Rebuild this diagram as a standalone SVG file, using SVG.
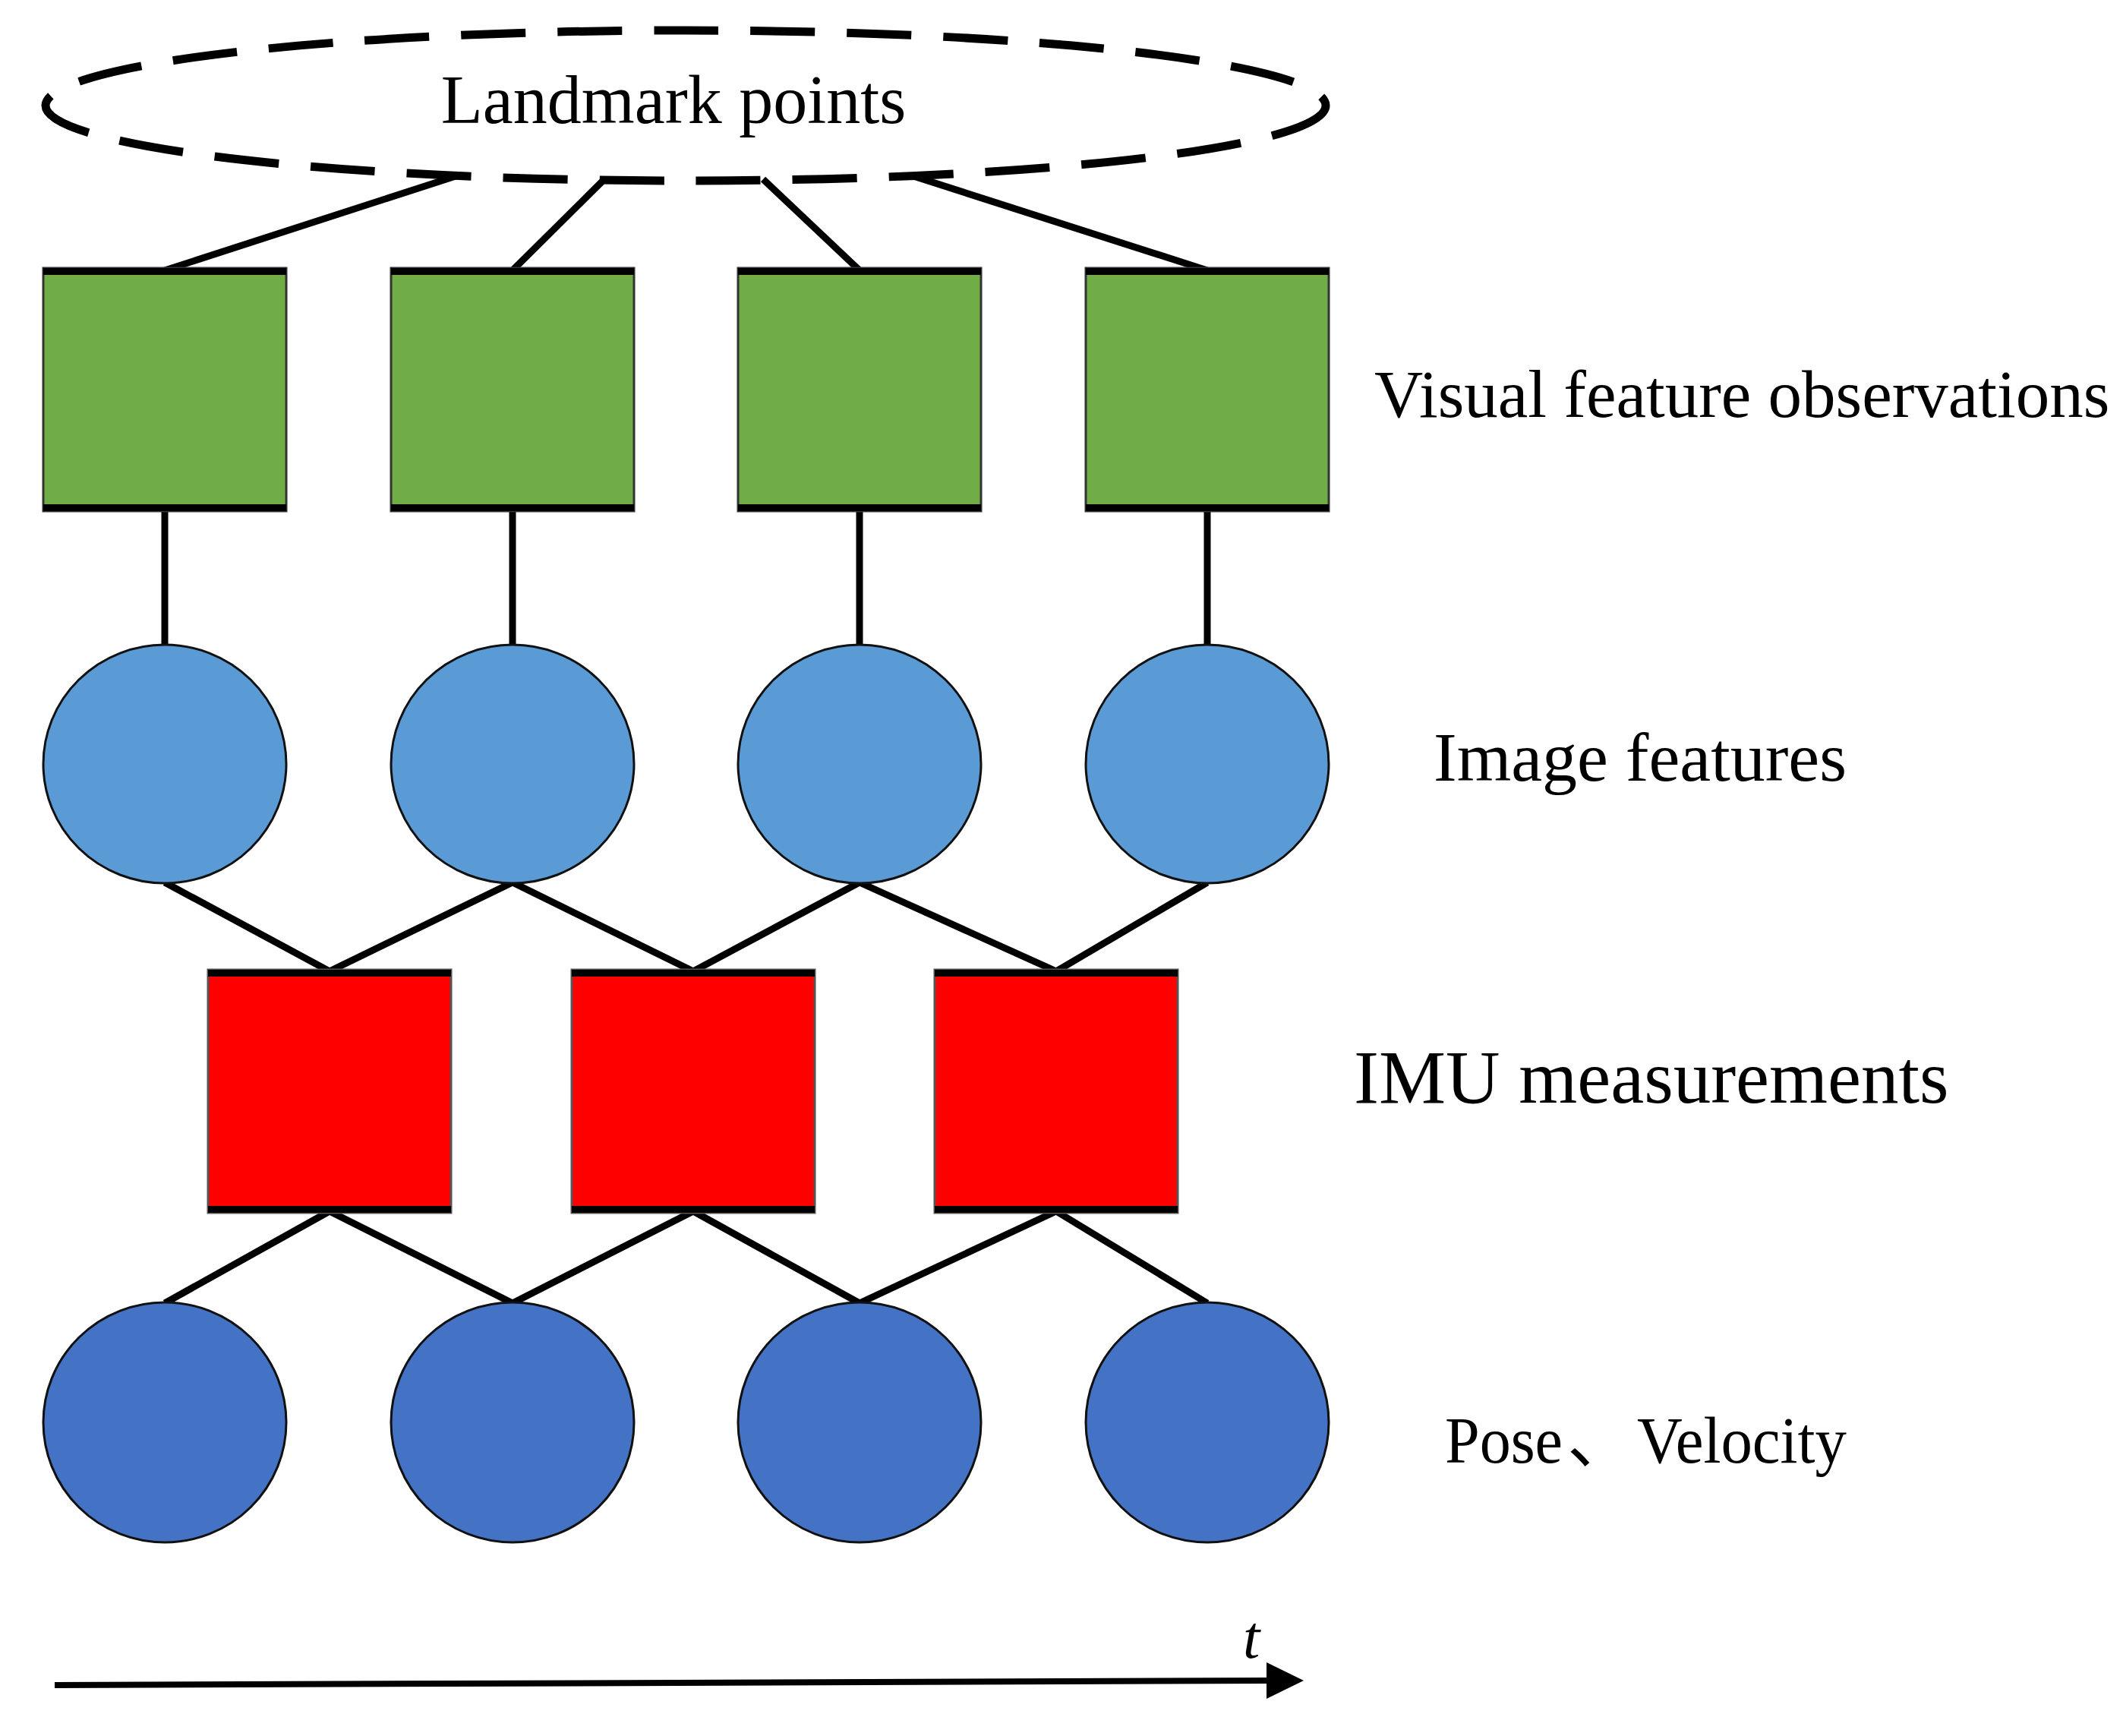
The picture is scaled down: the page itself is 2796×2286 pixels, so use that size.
<svg xmlns="http://www.w3.org/2000/svg" width="2796" height="2286" viewBox="0 0 2796 2286">
<style>
.lbl{font-family:"Liberation Serif","Times New Roman",serif;fill:#000}
.edge{stroke:#000;stroke-width:9;stroke-linecap:butt;fill:none}
.green{fill:#70AD47;stroke:#333;stroke-width:3}
.red{fill:#FF0000;stroke:#555;stroke-width:3}
.band{stroke:#000;stroke-width:9}
.lblue{fill:#5B9BD5;stroke:#111;stroke-width:3}
.dblue{fill:#4472C4;stroke:#111;stroke-width:3}
</style>
<rect width="2796" height="2286" fill="#fff"/>
<g id="connectors">
  <line class="edge" x1="600" y1="232" x2="217" y2="356"/>
  <line class="edge" x1="796" y1="236" x2="675" y2="356"/>
  <line class="edge" x1="1005" y1="236" x2="1132" y2="356"/>
  <line class="edge" x1="1200" y1="231" x2="1590" y2="356"/>
  <line class="edge" x1="217" y1="672" x2="217" y2="850"/>
  <line class="edge" x1="675" y1="672" x2="675" y2="850"/>
  <line class="edge" x1="1132" y1="672" x2="1132" y2="850"/>
  <line class="edge" x1="1590" y1="672" x2="1590" y2="850"/>
  <line class="edge" x1="217" y1="1162" x2="434" y2="1279"/>
  <line class="edge" x1="675" y1="1162" x2="434" y2="1279"/>
  <line class="edge" x1="675" y1="1162" x2="913" y2="1279"/>
  <line class="edge" x1="1132" y1="1162" x2="913" y2="1279"/>
  <line class="edge" x1="1132" y1="1162" x2="1391" y2="1279"/>
  <line class="edge" x1="1590" y1="1162" x2="1391" y2="1279"/>
  <line class="edge" x1="434" y1="1595" x2="217" y2="1716"/>
  <line class="edge" x1="434" y1="1595" x2="675" y2="1716"/>
  <line class="edge" x1="913" y1="1595" x2="675" y2="1716"/>
  <line class="edge" x1="913" y1="1595" x2="1132" y2="1716"/>
  <line class="edge" x1="1391" y1="1595" x2="1132" y2="1716"/>
  <line class="edge" x1="1391" y1="1595" x2="1590" y2="1716"/>
</g>
<g id="landmarks">
  <ellipse cx="903" cy="139" rx="843" ry="99" fill="none" stroke="#000" stroke-width="11" stroke-dasharray="85 42"/>
  <text class="lbl" x="887" y="162" font-size="90" text-anchor="middle">Landmark points</text>
</g>
<g id="visual-obs">
  <g id="v1"><rect class="green" x="57" y="353" width="320" height="320"/><line class="band" x1="57" y1="357.5" x2="377" y2="357.5"/><line class="band" x1="57" y1="668.5" x2="377" y2="668.5"/></g>
  <g id="v2"><rect class="green" x="515" y="353" width="320" height="320"/><line class="band" x1="515" y1="357.5" x2="835" y2="357.5"/><line class="band" x1="515" y1="668.5" x2="835" y2="668.5"/></g>
  <g id="v3"><rect class="green" x="972" y="353" width="320" height="320"/><line class="band" x1="972" y1="357.5" x2="1292" y2="357.5"/><line class="band" x1="972" y1="668.5" x2="1292" y2="668.5"/></g>
  <g id="v4"><rect class="green" x="1430" y="353" width="320" height="320"/><line class="band" x1="1430" y1="357.5" x2="1750" y2="357.5"/><line class="band" x1="1430" y1="668.5" x2="1750" y2="668.5"/></g>
</g>
<g id="image-features">
  <ellipse id="f1" class="lblue" cx="217" cy="1006" rx="160" ry="157"/>
  <ellipse id="f2" class="lblue" cx="675" cy="1006" rx="160" ry="157"/>
  <ellipse id="f3" class="lblue" cx="1132" cy="1006" rx="160" ry="157"/>
  <ellipse id="f4" class="lblue" cx="1590" cy="1006" rx="160" ry="157"/>
</g>
<g id="imu">
  <g id="m1"><rect class="red" x="274" y="1277" width="320" height="320"/><line class="band" x1="274" y1="1281.5" x2="594" y2="1281.5"/><line class="band" x1="274" y1="1592.5" x2="594" y2="1592.5"/></g>
  <g id="m2"><rect class="red" x="753" y="1277" width="320" height="320"/><line class="band" x1="753" y1="1281.5" x2="1073" y2="1281.5"/><line class="band" x1="753" y1="1592.5" x2="1073" y2="1592.5"/></g>
  <g id="m3"><rect class="red" x="1231" y="1277" width="320" height="320"/><line class="band" x1="1231" y1="1281.5" x2="1551" y2="1281.5"/><line class="band" x1="1231" y1="1592.5" x2="1551" y2="1592.5"/></g>
</g>
<g id="poses">
  <ellipse id="p1" class="dblue" cx="217" cy="1873" rx="160" ry="158"/>
  <ellipse id="p2" class="dblue" cx="675" cy="1873" rx="160" ry="158"/>
  <ellipse id="p3" class="dblue" cx="1132" cy="1873" rx="160" ry="158"/>
  <ellipse id="p4" class="dblue" cx="1590" cy="1873" rx="160" ry="158"/>
</g>
<g id="labels">
  <text class="lbl" x="1810" y="549" font-size="89">Visual feature observations</text>
  <text class="lbl" x="1888" y="1028" font-size="92">Image features</text>
  <text class="lbl" x="1783" y="1452" font-size="99">IMU measurements</text>
  <text class="lbl" y="1926" font-size="86"><tspan x="1903" textLength="155" lengthAdjust="spacingAndGlyphs">Pose</tspan><tspan x="2064" font-family="'Noto Sans CJK SC',sans-serif">、</tspan><tspan x="2156" textLength="276" lengthAdjust="spacingAndGlyphs">Velocity</tspan></text>
</g>
<g id="time-axis">
  <line x1="72" y1="2219" x2="1670" y2="2213" stroke="#000" stroke-width="8"/>
  <polygon points="1668,2189 1717,2213 1668,2237" fill="#000"/>
  <text class="lbl" x="1637" y="2183" font-size="80" font-style="italic">t</text>
</g>
</svg>
